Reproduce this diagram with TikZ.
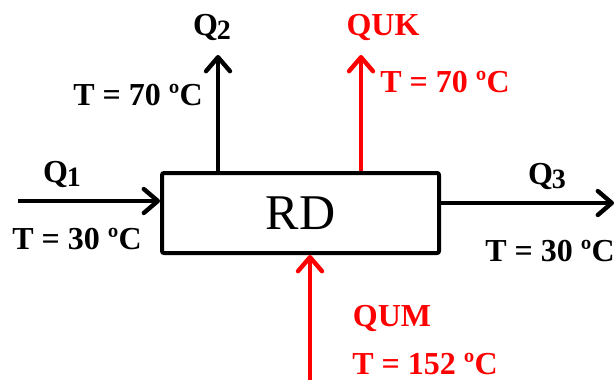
\documentclass[tikz,border=0pt]{standalone}
\usepackage{fontspec}
\setmainfont{Liberation Serif}
\usetikzlibrary{arrows.meta}
\tikzset{
  flow/.style={line width=2.2pt, -{Straight Barb[length=7pt,width=12pt,line cap=round,line join=round]}},
  lbl/.style={font=\fontsize{16}{18}\selectfont\bfseries, inner sep=0pt},
  hot/.style={red},
}
\newcommand{\qsub}[1]{Q\kern-0.5pt\raisebox{-0.3ex}{\fontsize{14}{14}\selectfont #1}}
\begin{document}
\begin{tikzpicture}[x=0.5pt,y=-0.5pt]
\useasboundingbox (0,0) rectangle (616,380);
\node[draw, line width=2pt, rounded corners=1pt, minimum width=138.5pt, minimum height=40pt, inner sep=0pt,
      font=\fontsize{25}{28}\selectfont] (rd) at (300.5,213) {RD};
% inlet Q1
\coordinate (q1s) at (18,201);
\draw[flow] (q1s) -- (q1s -| rd.west);
\node[lbl] (q1) at (62,174) {\qsub{1}};
\node[lbl] (t1) at (77,239) {T = 30 ºC};
% outlet Q2
\coordinate (q2e) at (218,55);
\draw[flow] (q2e |- rd.north) -- (q2e);
\node[lbl] (q2) at (212,27) {\qsub{2}};
\node[lbl] (t2) at (138,95) {T = 70 ºC};
% QUK
\coordinate (quke) at (361,55);
\draw[flow, hot] (quke |- rd.north) -- (quke);
\node[lbl, hot] (quk) at (383,27) {QUK};
\node[lbl, hot] (tk) at (445,82) {T = 70 ºC};
% outlet Q3
\coordinate (q3e) at (614,203);
\draw[flow] (q3e -| rd.east) -- (q3e);
\node[lbl] (q3) at (547,176) {\qsub{3}};
\node[lbl] (t3) at (550,251) {T = 30 ºC};
% QUM
\coordinate (qums) at (310,380);
\draw[flow, hot] (qums) -- (qums |- rd.south);
\node[lbl, hot] (qum) at (392,318) {QUM};
\node[lbl, hot] (tm) at (425,364) {T = 152 ºC};
\end{tikzpicture}
\end{document}
